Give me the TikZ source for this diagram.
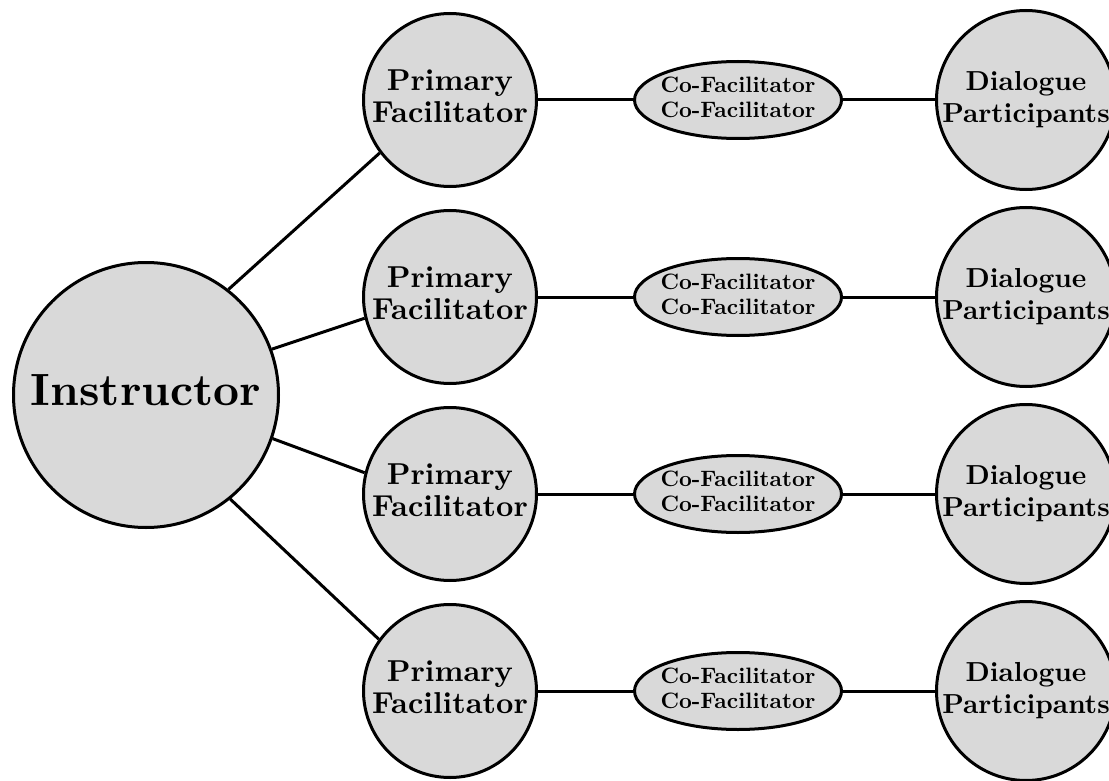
\documentclass[tikz,border=0pt]{standalone}
\usetikzlibrary{shapes.geometric}
\definecolor{nodefill}{RGB}{217,217,217}
\newcommand\mylbl[3]{\makebox[0pt]{\scalebox{#1}{\fontsize{10}{#2}\selectfont\bfseries\begin{tabular}{@{}c@{}}#3\end{tabular}}}}
\begin{document}
\begin{tikzpicture}[x=1pt,y=-1pt,
  base/.style={draw=black,line width=3pt,fill=nodefill,inner sep=0pt,align=center},
  instbox/.style={base,circle,minimum size=265pt},
  primbox/.style={base,circle,minimum size=173pt},
  cobox/.style={base,ellipse,minimum width=207pt,minimum height=77pt},
  dialbox/.style={base,circle,minimum size=179pt},
  link/.style={line width=3pt}]
\useasboundingbox (0,0) rectangle (1109,781);
\node[instbox] (inst) at (146,395) {\mylbl{4.52}{12}{Instructor}};
\foreach \i/\y in {1/100,2/297,3/494,4/691}{
  \node[primbox] (p\i) at (450,\y) {\mylbl{3.02}{10.6}{Primary\\Facilitator}};
  \node[cobox] (c\i) at (738,\y) {\mylbl{2.23}{11.2}{Co-Facilitator\\Co-Facilitator}};
  \node[dialbox] (d\i) at (1026,\y) {\mylbl{2.75}{11.9}{Dialogue\\Participants}};
  \draw[link] (p\i.east) -- (c\i.west);
  \draw[link] (c\i.east) -- (d\i.west);
}
\draw[link] (inst.52) -- (p1.217);
\draw[link] (inst.20.7) -- (p2.194);
\draw[link] (inst.-19.5) -- (p3.166);
\draw[link] (inst.-51) -- (p4.144);
\end{tikzpicture}
\end{document}
